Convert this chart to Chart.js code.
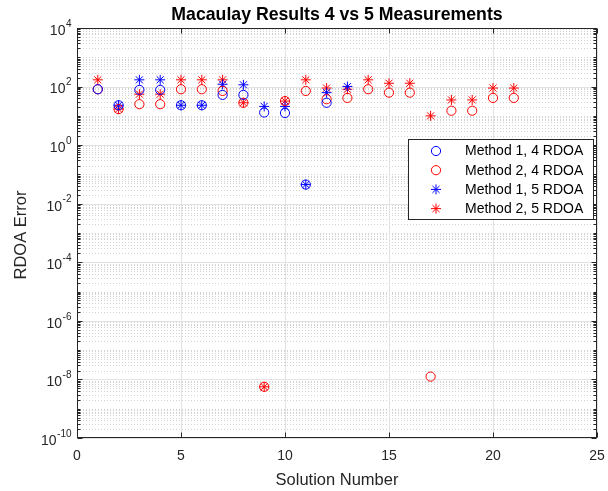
<!DOCTYPE html>
<html>
<head>
<meta charset="utf-8">
<script src="https://cdn.jsdelivr.net/npm/chart.js@4.4.1/dist/chart.umd.min.js"></script>
<style>
  html, body { margin: 0; padding: 0; background: #ffffff; }
  #wrap { width: 608px; height: 491px; }
</style>
</head>
<body>
<div id="wrap"><canvas id="chart" width="608" height="491"></canvas></div>
<script>
// Solution index along the x axis
const solutionNumbers = [1, 2, 3, 4, 5, 6, 7, 8, 9, 10, 11, 12, 13, 14, 15, 16, 17, 18, 19, 20, 21];

// RDOA error per solution (Method 1 only produced solutions 1-13)
const method1Rdoa4 = [81, 23, 77, 77, 23, 23, 52, 52, 13, 12.5, 0.045, 28, null];
const method2Rdoa4 = [81, 17, 25, 25, 81, 81, 71, 28, 5.6e-9, 32, 71, 37, 41, 81, 62, 62, 1.25e-8, 15, 15, 41, 41];
const method1Rdoa5 = [null, 23, 170, 170, 23, 23, 120, 115, 21, 21, 0.045, 62, 100];
const method2Rdoa5 = [170, 17, 55, 55, 170, 170, 170, 28, 5.6e-9, 32, 170, 89, 81, 170, 130, 130, 10, 35, 35, 89, 89];

// Axis ticks
const xTickValues = [0, 5, 10, 15, 20, 25];
const yTickExponents = [4, 2, 0, -2, -4, -6, -8, -10];

const seriesNames = ['Method 1, 4 RDOA', 'Method 2, 4 RDOA', 'Method 1, 5 RDOA', 'Method 2, 5 RDOA'];

const FONT = '"Liberation Sans", Arial, Helvetica, sans-serif';
const AXIS_COLOR = '#262626';
const BLUE = '#0000ff';
const RED = '#ff0000';

function toPoints(values) {
  return values.map((v, i) => ({ x: solutionNumbers[i], y: v }));
}

function markerDataset(label, values, color, style) {
  return {
    label: label,
    data: toPoints(values),
    pointStyle: style,
    pointRadius: style === 'star' ? 5 : 4.6,
    pointHoverRadius: style === 'star' ? 5 : 4.6,
    pointBorderWidth: 1,
    pointBorderColor: color,
    pointBackgroundColor: 'rgba(0,0,0,0)',
    borderColor: color,
    backgroundColor: 'rgba(0,0,0,0)',
    showLine: false
  };
}

const datasets = [
  markerDataset(seriesNames[0], method1Rdoa4, BLUE, 'circle'),
  markerDataset(seriesNames[1], method2Rdoa4, RED, 'circle'),
  markerDataset(seriesNames[2], method1Rdoa5, BLUE, 'star'),
  markerDataset(seriesNames[3], method2Rdoa5, RED, 'star')
];

// Grid, ticks, labels and axes box in the MATLAB style
const gridPlugin = {
  id: 'gridPlugin',
  beforeDatasetsDraw(chart) {
    const ctx = chart.ctx;
    const { left, right, top, bottom } = chart.chartArea;
    const xs = chart.scales.x, ys = chart.scales.y;
    ctx.save();
    ctx.lineWidth = 1;
    // minor log grid (dotted)
    ctx.strokeStyle = '#d2d2d2';
    ctx.setLineDash([1, 2]);
    for (let e = -10; e < 4; e++) {
      for (let m = 1; m <= 9; m++) {
        if (m === 1 && e % 2 === 0) continue;
        const y = Math.round(ys.getPixelForValue(m * Math.pow(10, e))) + 0.5;
        ctx.beginPath(); ctx.moveTo(left, y); ctx.lineTo(right, y); ctx.stroke();
      }
    }
    ctx.setLineDash([]);
    // major grid (solid)
    ctx.strokeStyle = '#e2e2e2';
    yTickExponents.forEach(e => {
      const y = Math.round(ys.getPixelForValue(Math.pow(10, e))) + 0.5;
      ctx.beginPath(); ctx.moveTo(left, y); ctx.lineTo(right, y); ctx.stroke();
    });
    xTickValues.forEach(v => {
      const x = Math.round(xs.getPixelForValue(v)) + 0.5;
      ctx.beginPath(); ctx.moveTo(x, top); ctx.lineTo(x, bottom); ctx.stroke();
    });
    ctx.restore();
  },
  afterDatasetsDraw(chart) {
    const ctx = chart.ctx;
    const { left, right, top, bottom } = chart.chartArea;
    const xs = chart.scales.x, ys = chart.scales.y;
    ctx.save();
    ctx.strokeStyle = AXIS_COLOR;
    ctx.lineWidth = 1;
    const L = Math.round(left) + 0.5, R = Math.round(right) - 0.5;
    const T = Math.round(top) + 0.5, B = Math.round(bottom) - 0.5;
    ctx.strokeRect(L, T, R - L, B - T);
    // x ticks (inward, bottom and top)
    xTickValues.forEach(v => {
      const x = Math.round(xs.getPixelForValue(v)) + 0.5;
      ctx.beginPath();
      ctx.moveTo(x, B); ctx.lineTo(x, B - 5);
      ctx.moveTo(x, T); ctx.lineTo(x, T + 5);
      ctx.stroke();
    });
    // y ticks: major at labelled decades, minor elsewhere
    for (let e = -10; e <= 4; e++) {
      for (let m = 1; m <= 9; m++) {
        if (e === 4 && m > 1) break;
        const major = (m === 1 && e % 2 === 0);
        const len = major ? 5 : 3;
        const y = Math.round(ys.getPixelForValue(m * Math.pow(10, e))) + 0.5;
        ctx.beginPath();
        ctx.moveTo(L, y); ctx.lineTo(L + len, y);
        ctx.moveTo(R, y); ctx.lineTo(R - len, y);
        ctx.stroke();
      }
    }
    ctx.restore();

    // legend
    const lx = 408.5, ly = 139.5, lw = 185, lh = 80;
    ctx.save();
    ctx.fillStyle = '#ffffff';
    ctx.fillRect(lx, ly, lw, lh);
    ctx.strokeStyle = AXIS_COLOR;
    ctx.lineWidth = 1;
    ctx.strokeRect(lx, ly, lw, lh);
    ctx.font = '14px ' + FONT;
    ctx.textBaseline = 'middle';
    ctx.textAlign = 'left';
    chart.data.datasets.forEach((ds, i) => {
      const y = 151 + i * 19.2;
      const opts = {
        pointStyle: ds.pointStyle,
        radius: ds.pointRadius,
        rotation: 0,
        borderWidth: 1
      };
      ctx.strokeStyle = ds.pointBorderColor;
      ctx.fillStyle = 'rgba(0,0,0,0)';
      ctx.lineWidth = 1;
      if (Chart.helpers && Chart.helpers.drawPoint) {
        Chart.helpers.drawPoint(ctx, opts, 436, y);
      }
      ctx.fillStyle = '#000000';
      ctx.fillText(ds.label, 465, y + 0.5);
    });
    ctx.restore();
  },
  afterDraw(chart) {
    const ctx = chart.ctx;
    const { left, right, top, bottom } = chart.chartArea;
    const xs = chart.scales.x, ys = chart.scales.y;
    ctx.save();
    ctx.fillStyle = AXIS_COLOR;
    // x tick labels
    ctx.font = '14px ' + FONT;
    ctx.textAlign = 'center';
    ctx.textBaseline = 'middle';
    xTickValues.forEach(v => {
      ctx.fillText(String(v), xs.getPixelForValue(v), 456);
    });
    // y tick labels: 10 with a raised exponent
    yTickExponents.forEach(e => {
      const y = ys.getPixelForValue(Math.pow(10, e));
      ctx.font = '14px ' + FONT;
      const wb = ctx.measureText('10').width;
      ctx.font = '10px ' + FONT;
      const exp = String(e);
      const we = ctx.measureText(exp).width;
      const x0 = 71 - we - wb;
      ctx.textBaseline = 'middle';
      ctx.textAlign = 'left';
      ctx.font = '14px ' + FONT;
      ctx.fillText('10', x0, y + 3);
      ctx.font = '10px ' + FONT;
      ctx.fillText(exp, x0 + wb + 0.5, y - 4);
    });
    // axis titles
    ctx.textAlign = 'center';
    ctx.textBaseline = 'middle';
    ctx.font = '16.5px ' + FONT;
    ctx.fillText('Solution Number', (left + right) / 2, 480);
    ctx.save();
    ctx.translate(21, (top + bottom) / 2 + 2);
    ctx.rotate(-Math.PI / 2);
    ctx.fillText('RDOA Error', 0, 0);
    ctx.restore();
    // title
    ctx.fillStyle = '#000000';
    ctx.font = 'bold 17.7px ' + FONT;
    ctx.fillText('Macaulay Results 4 vs 5 Measurements', (left + right) / 2, 15);
    ctx.restore();
  }
};

new Chart(document.getElementById('chart'), {
  type: 'scatter',
  data: { datasets: datasets },
  options: {
    responsive: false,
    animation: false,
    devicePixelRatio: 1,
    layout: { padding: { top: 28, right: 11, left: 0, bottom: 0 } },
    plugins: {
      legend: { display: false },
      title: { display: false },
      tooltip: { enabled: false }
    },
    scales: {
      x: {
        type: 'linear',
        min: 0,
        max: 25,
        grid: { display: false, drawTicks: false },
        border: { display: false },
        ticks: { display: false },
        afterFit(scale) { scale.height = 53; }
      },
      y: {
        type: 'logarithmic',
        min: 1e-10,
        max: 1e4,
        grid: { display: false, drawTicks: false },
        border: { display: false },
        ticks: { display: false },
        afterFit(scale) { scale.width = 77; }
      }
    }
  },
  plugins: [gridPlugin]
});
</script>
</body>
</html>
